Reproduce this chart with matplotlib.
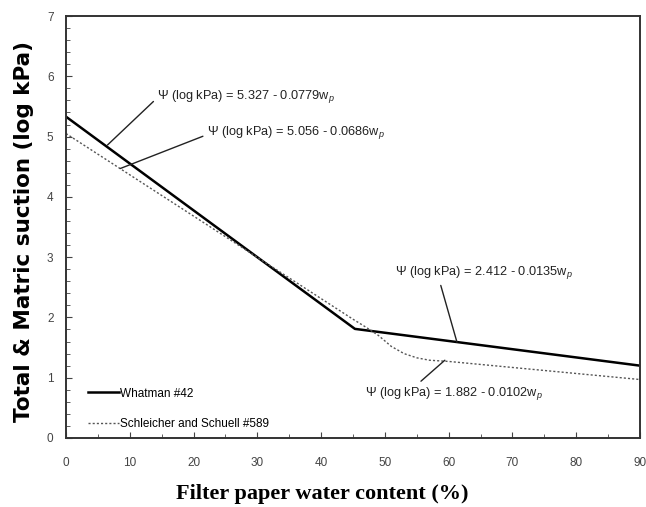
import matplotlib.pyplot as plt
from matplotlib.ticker import MultipleLocator

plt.rcParams['mathtext.fontset'] = 'custom'
plt.rcParams['mathtext.rm'] = 'Liberation Sans'
plt.rcParams['mathtext.it'] = 'Liberation Sans:italic'

# Whatman #42 (bilinear calibration, break near 45 %)
whatman_x = [0, 45.3, 90]
whatman_y = [5.33, 1.81, 1.20]

# Schleicher and Schuell #589 (smooth bend between the two branches)
ss_x = [0, 45, 47, 49, 51, 53, 55, 57, 60, 90]
ss_y = [5.05, 1.97, 1.84, 1.70, 1.52, 1.40, 1.33, 1.29, 1.27, 0.97]

x_ticks = [0, 10, 20, 30, 40, 50, 60, 70, 80, 90]
y_ticks = [0, 1, 2, 3, 4, 5, 6, 7]

labels = [r"$\Psi$ (log kPa) = 5.327 - 0.0779w$_p$",
          r"$\Psi$ (log kPa) = 5.056 - 0.0686w$_p$",
          r"$\Psi$ (log kPa) = 2.412 - 0.0135w$_p$",
          r"$\Psi$ (log kPa) = 1.882 - 0.0102w$_p$"]
label_xy = [(14.3, 5.67), (22.1, 5.06), (51.6, 2.74), (46.9, 0.74)]
tip_xy = [(6.5, 4.86), (8.5, 4.47), (61.3, 1.59), (59.4, 1.29)]
rel_pos = [(0, 0.4), (0, 0.4), (0.25, 0), (0.29, 1)]

fig = plt.figure(figsize=(6.46, 5.07), dpi=100)
ax = fig.add_axes([0.1022, 0.1361, 0.8885, 0.8323])

ax.plot(whatman_x, whatman_y, color="black", lw=1.8, label="Whatman #42")
ax.plot(ss_x, ss_y, color="#555555", lw=1.0, linestyle=(0, (1.5, 1.5)),
        label="Schleicher and Schuell #589")

for txt, (tx, ty), (px, py), rp in zip(labels, label_xy, tip_xy, rel_pos):
    ax.annotate(txt, xy=(px, py), xytext=(tx, ty), fontsize=9.2,
                family="Liberation Sans", color="#222222", va="center", ha="left",
                arrowprops=dict(arrowstyle="-", color="#222222", lw=1.0,
                                shrinkA=1, shrinkB=0, relpos=rp))

ax.set_xlim(0, 90)
ax.set_ylim(0, 7)
ax.set_xticks(x_ticks)
ax.set_yticks(y_ticks)
ax.xaxis.set_minor_locator(MultipleLocator(5))
ax.yaxis.set_minor_locator(MultipleLocator(0.2))
ax.tick_params(which="both", direction="in", colors="#444444", labelsize=8.5)
ax.tick_params(axis="x", which="both", pad=14)
ax.tick_params(axis="y", which="both", pad=9)
ax.tick_params(which="major", length=4)
ax.tick_params(which="minor", length=3)
for lab in ax.get_xticklabels() + ax.get_yticklabels():
    lab.set_family("Liberation Sans")
for s in ax.spines.values():
    s.set_linewidth(1.4)
    s.set_color("#333333")

fig.text(322 / 646, 1 - 494 / 507, "Filter paper water content (%)",
         family="Liberation Serif", fontweight="bold", fontsize=16,
         ha="center", va="center")
fig.text(24 / 646, 1 - 232 / 507, "Total & Matric suction (log kPa)",
         family="DejaVu Sans", fontweight="bold", fontsize=15.5,
         rotation=90, ha="center", va="center")

leg = ax.legend(loc="lower left", bbox_to_anchor=(0.02, -0.006), frameon=False,
                prop={"family": "Liberation Sans", "size": 8.5},
                handlelength=2.6, handletextpad=0.1, labelspacing=1.55)

plt.savefig("out.png", dpi=100)
